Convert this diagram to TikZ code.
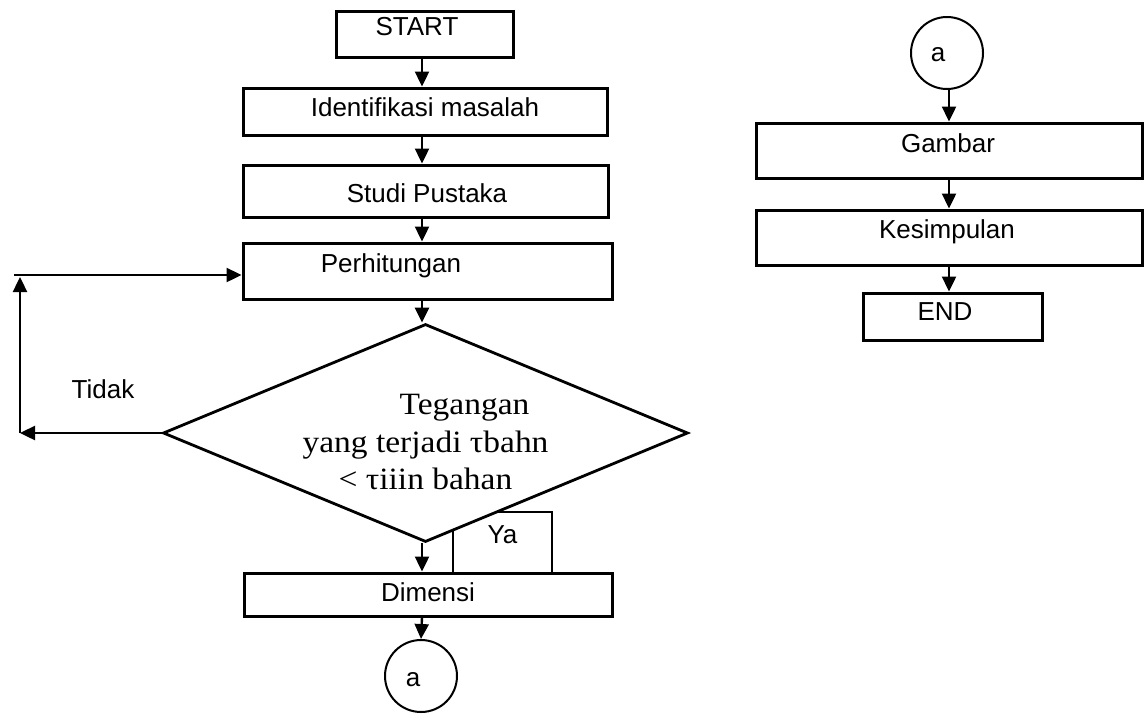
\documentclass[tikz,border=0pt]{standalone}
\usepackage{fontspec}
\setmainfont{Liberation Sans}
\newfontfamily\serifd[FakeStretch=1.08]{Liberation Serif}
\usetikzlibrary{shapes.geometric,arrows.meta}
\begin{document}
\begin{tikzpicture}[x=1pt,y=-1pt,
  box/.style={draw, line width=3pt, inner sep=0pt},
  lab/.style={inner sep=0pt, font=\fontsize{26}{30}\selectfont},
  dlab/.style={inner sep=0pt, align=center, font=\serifd\fontsize{31}{37.5}\selectfont},
  arr/.style={line width=2.4pt, -{Triangle[length=15pt,width=14pt]}},
  conn/.style={draw, circle, line width=2pt, inner sep=0pt, minimum size=72pt}]
\useasboundingbox (0,0) rectangle (1145,715);

% left column
\node[box, minimum width=177pt, minimum height=46pt,
  label={[lab, xshift=-7.5pt, yshift=7pt]center:START}] (start) at (424.5,34) {};
\node[box, minimum width=364pt, minimum height=47pt,
  label={[lab, yshift=4.5pt]center:Identifikasi masalah}] (iden) at (425,111.5) {};
\node[box, minimum width=365pt, minimum height=52pt,
  label={[lab, xshift=1.5pt, yshift=-2pt]center:Studi Pustaka}] (studi) at (425.5,191) {};
\node[box, minimum width=369pt, minimum height=56pt,
  label={[lab, xshift=-36.5pt, yshift=5pt]center:Perhitungan}] (perh) at (427.5,271) {};
\node[box, line width=2.4pt, minimum width=99pt, minimum height=61pt,
  label={[lab, yshift=7.5pt]center:Ya}] (yabox) at (502.5,542.5) {};
\node[draw, diamond, fill=white, line width=2.8pt, inner sep=0pt,
  minimum width=525pt, minimum height=218pt,
  label={[dlab, yshift=-9pt]center:{\hspace*{78pt}Tegangan\\yang terjadi τbahn\\< τiiin bahan}}] (dia) at (425.5,433) {};
\node[box, minimum width=368pt, minimum height=43pt,
  label={[lab, yshift=2.5pt]center:Dimensi}] (dim) at (428,594.5) {};
\node[conn, label={[lab, xshift=-8pt, yshift=-4pt]center:a}] (ca1) at (421,676) {};
\node[lab] (tidak) at (103,389) {Tidak};

% right column
\node[conn, label={[lab, xshift=-9pt, yshift=-2pt]center:a}] (ca2) at (947,53) {};
\node[box, minimum width=386pt, minimum height=55pt,
  label={[lab, xshift=-1pt, yshift=7.5pt]center:Gambar}] (gam) at (949,150.5) {};
\node[box, minimum width=386pt, minimum height=55pt,
  label={[lab, xshift=-2pt, yshift=5.5pt]center:Kesimpulan}] (kes) at (949,237.5) {};
\node[box, minimum width=179pt, minimum height=47pt,
  label={[lab, xshift=-7.5pt, yshift=4.5pt]center:END}] (endb) at (952.5,316.5) {};

% connectors
\coordinate (mx) at (422,0);
\coordinate (rx) at (949,0);
\draw[arr] (start.south -| mx) -- (iden.north -| mx);
\draw[arr] (iden.south -| mx) -- (studi.north -| mx);
\draw[arr] (studi.south -| mx) -- (perh.north -| mx);
\draw[arr] (perh.south -| mx) -- (dia.north -| mx);
\draw[arr] (dia.south -| mx) -- (dim.north -| mx);
\draw[arr] (dim.south -| mx) -- (ca1.north);

\coordinate (l1) at (20,433);
\coordinate (l2) at (20,277);
\coordinate (l3) at (14,275);
\draw[arr] (dia.west) -- (l1);
\draw[arr] (l1) -- (l2);
\draw[arr] (l3) -- (perh.west |- l3);

\draw[arr] (ca2.south -| rx) -- (gam.north -| rx);
\draw[arr] (gam.south -| rx) -- (kes.north -| rx);
\draw[arr] (kes.south -| rx) -- (endb.north -| rx);
\end{tikzpicture}
\end{document}
